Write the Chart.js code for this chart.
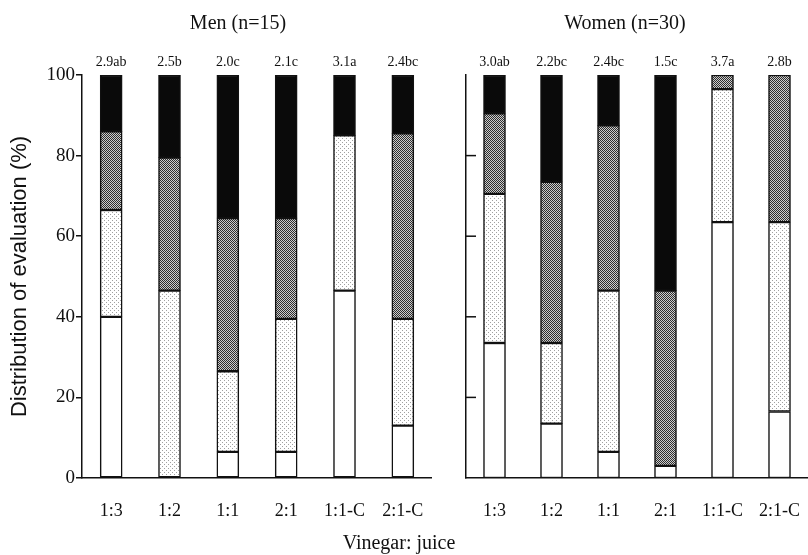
<!DOCTYPE html>
<html>
<head>
<meta charset="utf-8">
<script src="https://cdn.jsdelivr.net/npm/chart.js@4.4.0/dist/chart.umd.min.js"></script>
<style>
  body { margin: 0; background: #fff; }
  #wrap { position: relative; width: 808px; height: 555px; font-family: "Liberation Serif", serif; color: #111; }
  #men { position: absolute; left: 0; top: 0; }
  #women { position: absolute; left: 432px; top: 0; }
  .txt { position: absolute; font-size: 20px; white-space: nowrap; transform: translate(-50%, -50%); }
</style>
</head>
<body>
<div id="wrap">
  <canvas id="men" width="432" height="555"></canvas>
  <canvas id="women" width="376" height="555"></canvas>
  <div class="txt" style="left:238px; top:22px;">Men (n=15)</div>
  <div class="txt" style="left:625px; top:22px;">Women (n=30)</div>
  <div class="txt" style="left:399px; top:542px;">Vinegar: juice</div>
</div>
<script>
var categories = ['1:3', '1:2', '1:1', '2:1', '1:1-C', '2:1-C'];

// men (n=15), % of evaluations, bottom to top
var menWhite = [40, 0, 6.5, 6.5, 46.5, 13];
var menLight = [26.5, 46.5, 20, 33, 38.5, 26.5];
var menDark  = [19.5, 33, 38, 25, 0, 46];
var menBlack = [14, 20.5, 35.5, 35.5, 15, 14.5];
var menScores = ['2.9ab', '2.5b', '2.0c', '2.1c', '3.1a', '2.4bc'];

// women (n=30)
var womenWhite = [33.5, 13.5, 6.5, 3, 63.5, 16.5];
var womenLight = [37, 20, 40, 0, 33, 47];
var womenDark  = [20, 40, 41, 43.5, 3.5, 36.5];
var womenBlack = [9.5, 26.5, 12.5, 53.5, 0, 0];
var womenScores = ['3.0ab', '2.2bc', '2.4bc', '1.5c', '3.7a', '2.8b'];

var yTicks = [0, 20, 40, 60, 80, 100];

function makePattern(dots, bg, fg) {
  var c = document.createElement('canvas');
  c.width = 4; c.height = 4;
  var g = c.getContext('2d');
  g.fillStyle = bg;
  g.fillRect(0, 0, 4, 4);
  g.fillStyle = fg;
  dots.forEach(function (d) { g.fillRect(d[0], d[1], 1, 1); });
  return g.createPattern(c, 'repeat');
}
var lightFill = makePattern([[0, 0], [2, 2]], '#ffffff', '#a0a0a0');
var darkFill = makePattern([[0, 0], [2, 0], [1, 1], [3, 1], [0, 2], [2, 2], [1, 3], [3, 3]], '#cccccc', '#2e2e2e');

function sets(w, l, d, b) {
  var base = { borderColor: '#111', borderWidth: 1.5, borderSkipped: false, barThickness: 22 };
  return [
    Object.assign({ label: 'white', data: w, backgroundColor: '#ffffff' }, base),
    Object.assign({ label: 'light', data: l, backgroundColor: lightFill }, base),
    Object.assign({ label: 'dark', data: d, backgroundColor: darkFill }, base),
    Object.assign({ label: 'black', data: b, backgroundColor: '#0a0a0a' }, base)
  ];
}

var scoreLabels = {
  id: 'scoreLabels',
  afterDatasetsDraw: function (chart, args, opts) {
    var ctx = chart.ctx;
    var y = chart.scales.y.getPixelForValue(100) - 6;
    ctx.save();
    ctx.font = '14px "Liberation Serif"';
    ctx.fillStyle = '#111';
    ctx.textAlign = 'center';
    ctx.textBaseline = 'bottom';
    opts.labels.forEach(function (t, i) {
      ctx.fillText(t, chart.scales.x.getPixelForValue(i), y);
    });
    ctx.restore();
  }
};

var innerTicks = {
  id: 'innerTicks',
  afterDraw: function (chart, args, opts) {
    if (!opts.on) return;
    var ctx = chart.ctx, s = chart.scales.y, x0 = chart.chartArea.left;
    ctx.save();
    ctx.strokeStyle = '#111';
    ctx.lineWidth = 1.5;
    [20, 40, 60, 80].forEach(function (v) {
      var y = s.getPixelForValue(v);
      ctx.beginPath();
      ctx.moveTo(x0, y);
      ctx.lineTo(x0 + 10, y);
      ctx.stroke();
    });
    ctx.restore();
  }
};

function makeChart(id, datasets, scores, showY, yWidth) {
  return new Chart(document.getElementById(id), {
    type: 'bar',
    data: { labels: categories, datasets: datasets },
    plugins: [scoreLabels, innerTicks],
    options: {
      responsive: false,
      animation: false,
      layout: { padding: { top: 75, right: 0, bottom: 0, left: 0 } },
      plugins: {
        legend: { display: false },
        tooltip: { enabled: false },
        scoreLabels: { labels: scores },
        innerTicks: { on: !showY }
      },
      scales: {
        x: {
          stacked: true,
          grid: { display: false, drawTicks: false },
          border: { display: true, color: '#111', width: 1.5 },
          ticks: { color: '#111', padding: 22, font: { family: 'Liberation Serif', size: 18 } },
          afterFit: function (s) { s.height = 77; s.paddingLeft = 0; s.paddingRight = 0; }
        },
        y: {
          stacked: true,
          min: 0,
          max: 100,
          afterBuildTicks: function (s) { s.ticks = yTicks.map(function (v) { return { value: v }; }); },
          grid: { display: showY, drawOnChartArea: false, tickLength: 6, color: '#111', lineWidth: 1.5 },
          border: { display: true, color: '#111', width: 1.5 },
          ticks: { display: showY, color: '#111', padding: 1, font: { family: 'Liberation Serif', size: 19 } },
          title: {
            display: showY,
            text: 'Distribution of evaluation (%)',
            color: '#111',
            padding: { top: 7, bottom: 0 },
            font: { family: 'Liberation Sans', size: 22 }
          },
          afterFit: function (s) { s.width = yWidth; s.paddingTop = 0; s.paddingBottom = 0; }
        }
      }
    }
  });
}

makeChart('men', sets(menWhite, menLight, menDark, menBlack), menScores, true, 82);
makeChart('women', sets(womenWhite, womenLight, womenDark, womenBlack), womenScores, false, 34);
</script>
</body>
</html>
